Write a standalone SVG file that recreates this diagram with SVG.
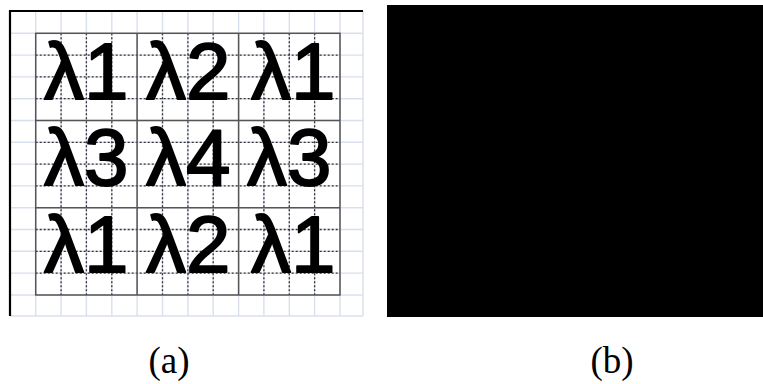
<svg xmlns="http://www.w3.org/2000/svg" width="763" height="384" viewBox="0 0 763 384">
<style>
.bg{fill:#ffffff}
.light{stroke:#d9dfee;stroke-width:1.4;fill:none}
.border{stroke:#000;stroke-width:2.2;fill:none}
.solid{stroke:#555;stroke-width:1.5;fill:none}
.dot{stroke:#333;stroke-width:1.3;stroke-dasharray:2 2;fill:none}
.lam{font-family:"Liberation Sans",Arial,sans-serif;font-size:80px;fill:#000;stroke:#000;stroke-width:1.8;stroke-linejoin:round}
.cap{font-family:"Liberation Serif","Times New Roman",serif;font-size:37px;fill:#000;text-anchor:middle}
</style>
<rect class="bg" x="0" y="0" width="763" height="384"/>
<g id="panel-a">
  <g id="light-grid" class="light">
    <path d="M35.7 11V316M61.1 11V316M86.4 11V316M111.8 11V316M137.1 11V316M162.5 11V316M187.9 11V316M213.2 11V316M238.6 11V316M263.9 11V316M289.3 11V316M314.6 11V316M340 11V316M363 11V316"/>
    <path d="M10 33.3H363M10 55.1H363M10 76.9H363M10 98.7H363M10 120.5H363M10 142.3H363M10 164.1H363M10 185.9H363M10 207.7H363M10 229.5H363M10 251.3H363M10 273.1H363M10 295H363M10 316H363"/>
  </g>
  <g id="frame" class="border">
    <path d="M363 11H10V316"/>
  </g>
  <g id="dotted-grid" class="dot">
    <path d="M61.1 33.3V295M86.4 33.3V295M111.8 33.3V295M162.5 33.3V295M187.9 33.3V295M213.2 33.3V295M263.9 33.3V295M289.3 33.3V295M314.6 33.3V295"/>
    <path d="M35.7 55.1H340M35.7 76.9H340M35.7 98.7H340M35.7 142.3H340M35.7 164.1H340M35.7 185.9H340M35.7 229.5H340M35.7 251.3H340M35.7 273.1H340"/>
  </g>
  <g id="cell-grid" class="solid">
    <rect x="35.7" y="33.3" width="304.3" height="261.7"/>
    <path d="M137.1 33.3V295M238.6 33.3V295M35.7 120.5H340M35.7 207.7H340"/>
  </g>
  <g id="labels">
    <text class="lam" x="44" y="99">λ1</text>
    <text class="lam" x="146" y="99">λ2</text>
    <text class="lam" x="251" y="99">λ1</text>
    <text class="lam" x="44" y="185">λ3</text>
    <text class="lam" x="146" y="185">λ4</text>
    <text class="lam" x="247" y="185">λ3</text>
    <text class="lam" x="44" y="272">λ1</text>
    <text class="lam" x="146" y="272">λ2</text>
    <text class="lam" x="251" y="272">λ1</text>
  </g>
</g>
<g id="panel-b">
  <rect x="387" y="5" width="376" height="312" fill="#000"/>
</g>
<g id="captions">
  <text class="cap" x="169" y="373">(a)</text>
  <text class="cap" x="612" y="373">(b)</text>
</g>
</svg>
